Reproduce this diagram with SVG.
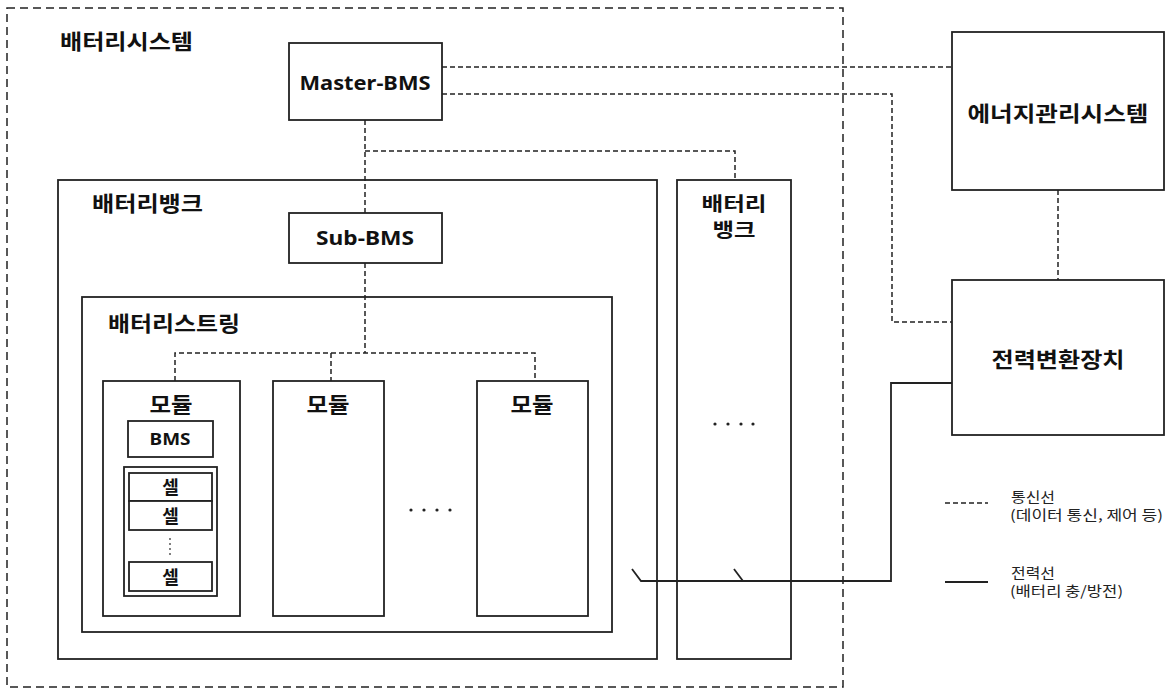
<svg xmlns="http://www.w3.org/2000/svg" width="1166" height="689" viewBox="0 0 1166 689">
<style>
.box{fill:#fff;stroke:#222;stroke-width:1.8}
.t{font-family:"Noto Sans CJK KR","Noto Sans",sans-serif;font-weight:bold;fill:#111}
.lat{font-family:"Noto Sans","Noto Sans CJK KR",sans-serif;font-weight:bold;fill:#111}
.h{font-size:21px}
.c{text-anchor:middle}
.dash{fill:none;stroke:#222;stroke-width:1.5;stroke-dasharray:5,3}
.pw{fill:none;stroke:#222;stroke-width:1.8}
.leg{font-family:"Noto Sans CJK KR",sans-serif;font-size:14px;fill:#222}
</style>
<rect width="1166" height="689" fill="#fff"/>
<g id="battery-system">
<rect x="7" y="8" width="836" height="679" fill="none" stroke="#222" stroke-width="1.5" stroke-dasharray="8,5"/>
<text class="t h" x="60" y="49" textLength="133" lengthAdjust="spacingAndGlyphs">배터리시스템</text>
</g>
<g id="master-bms">
<rect class="box" x="289" y="43" width="153" height="77"/>
<text class="lat c" x="365" y="90" font-size="20" textLength="131" lengthAdjust="spacingAndGlyphs">Master-BMS</text>
</g>
<g id="battery-bank-1">
<rect class="box" x="58" y="180" width="599" height="479"/>
<text class="t h" x="92" y="211" textLength="111" lengthAdjust="spacingAndGlyphs">배터리뱅크</text>
</g>
<g id="sub-bms">
<rect class="box" x="289" y="213" width="153" height="50"/>
<text class="lat c" x="365" y="245" font-size="19" textLength="98" lengthAdjust="spacingAndGlyphs">Sub-BMS</text>
</g>
<g id="battery-string">
<rect class="box" x="82" y="297" width="530" height="335"/>
<text class="t h" x="108" y="331" textLength="132" lengthAdjust="spacingAndGlyphs">배터리스트링</text>
</g>
<g id="module-1">
<rect class="box" x="103" y="381" width="137" height="235"/>
<text class="t h c" x="171" y="412" textLength="43" lengthAdjust="spacingAndGlyphs">모듈</text>
<rect class="box" x="128" y="421" width="85" height="36"/>
<text class="lat c" x="170" y="445" font-size="16" textLength="41" lengthAdjust="spacingAndGlyphs">BMS</text>
<rect class="box" x="124" y="467" width="93" height="129"/>
<rect class="box" x="129" y="473" width="83" height="28"/>
<rect class="box" x="129" y="501" width="83" height="29"/>
<rect class="box" x="129" y="562" width="83" height="29"/>
<text class="t c" font-size="18" x="170.5" y="494">셀</text>
<text class="t c" font-size="18" x="170.5" y="523">셀</text>
<text class="t c" font-size="18" x="170.5" y="584">셀</text>
<g fill="#444"><circle cx="170" cy="539" r="0.9"/><circle cx="170" cy="544" r="0.9"/><circle cx="170" cy="549" r="0.9"/><circle cx="170" cy="554" r="0.9"/></g>
</g>
<g id="module-2">
<rect class="box" x="273" y="381" width="111" height="235"/>
<text class="t h c" x="328" y="412" textLength="43" lengthAdjust="spacingAndGlyphs">모듈</text>
</g>
<g id="ellipsis-modules" fill="#222">
<circle cx="411" cy="510" r="1.6"/><circle cx="424" cy="510" r="1.6"/><circle cx="437" cy="510" r="1.6"/><circle cx="450" cy="510" r="1.6"/>
</g>
<g id="module-3">
<rect class="box" x="477" y="381" width="111" height="235"/>
<text class="t h c" x="532" y="412" textLength="43" lengthAdjust="spacingAndGlyphs">모듈</text>
</g>
<g id="battery-bank-2">
<rect class="box" x="677" y="180" width="114" height="479"/>
<text class="t c" font-size="19" x="734" y="211" textLength="65" lengthAdjust="spacingAndGlyphs">배터리</text>
<text class="t c" font-size="19" x="734" y="237" textLength="43" lengthAdjust="spacingAndGlyphs">뱅크</text>
<g fill="#222"><circle cx="715" cy="424" r="1.6"/><circle cx="728" cy="424" r="1.6"/><circle cx="741" cy="424" r="1.6"/><circle cx="753" cy="424" r="1.6"/></g>
</g>
<g id="ems">
<rect class="box" x="952" y="32" width="212" height="158"/>
<text class="t h c" x="1058" y="121" textLength="181" lengthAdjust="spacingAndGlyphs">에너지관리시스템</text>
</g>
<g id="pcs">
<rect class="box" x="952" y="280" width="212" height="155"/>
<text class="t h c" x="1058" y="367" textLength="133" lengthAdjust="spacingAndGlyphs">전력변환장치</text>
</g>
<g id="connectors">
<path class="dash" d="M442,67 H952"/>
<path class="dash" d="M442,94 H892 V322 H952"/>
<path class="dash" d="M1058,190 V280"/>
<path class="dash" d="M365,120 V213"/>
<path class="dash" d="M365,151 H735 V180"/>
<path class="dash" d="M365,263 V353"/>
<path class="dash" d="M175,381 V353 H535 V381"/>
<path class="dash" d="M331,353 V381"/>
<path class="pw" d="M632,569 L641,581 H891 V383 H952"/>
<path class="pw" d="M734,569 L743,581"/>
</g>
<g id="legend">
<path class="dash" d="M945,503 H988"/>
<text class="leg" x="1011" y="502" textLength="44" lengthAdjust="spacingAndGlyphs">통신선</text>
<text class="leg" x="1010" y="520" textLength="153" lengthAdjust="spacingAndGlyphs">(데이터 통신, 제어 등)</text>
<path class="pw" d="M945,582 H988" stroke-width="2"/>
<text class="leg" x="1011" y="578" textLength="44" lengthAdjust="spacingAndGlyphs">전력선</text>
<text class="leg" x="1010" y="596" textLength="113" lengthAdjust="spacingAndGlyphs">(배터리 충/방전)</text>
</g>
</svg>
